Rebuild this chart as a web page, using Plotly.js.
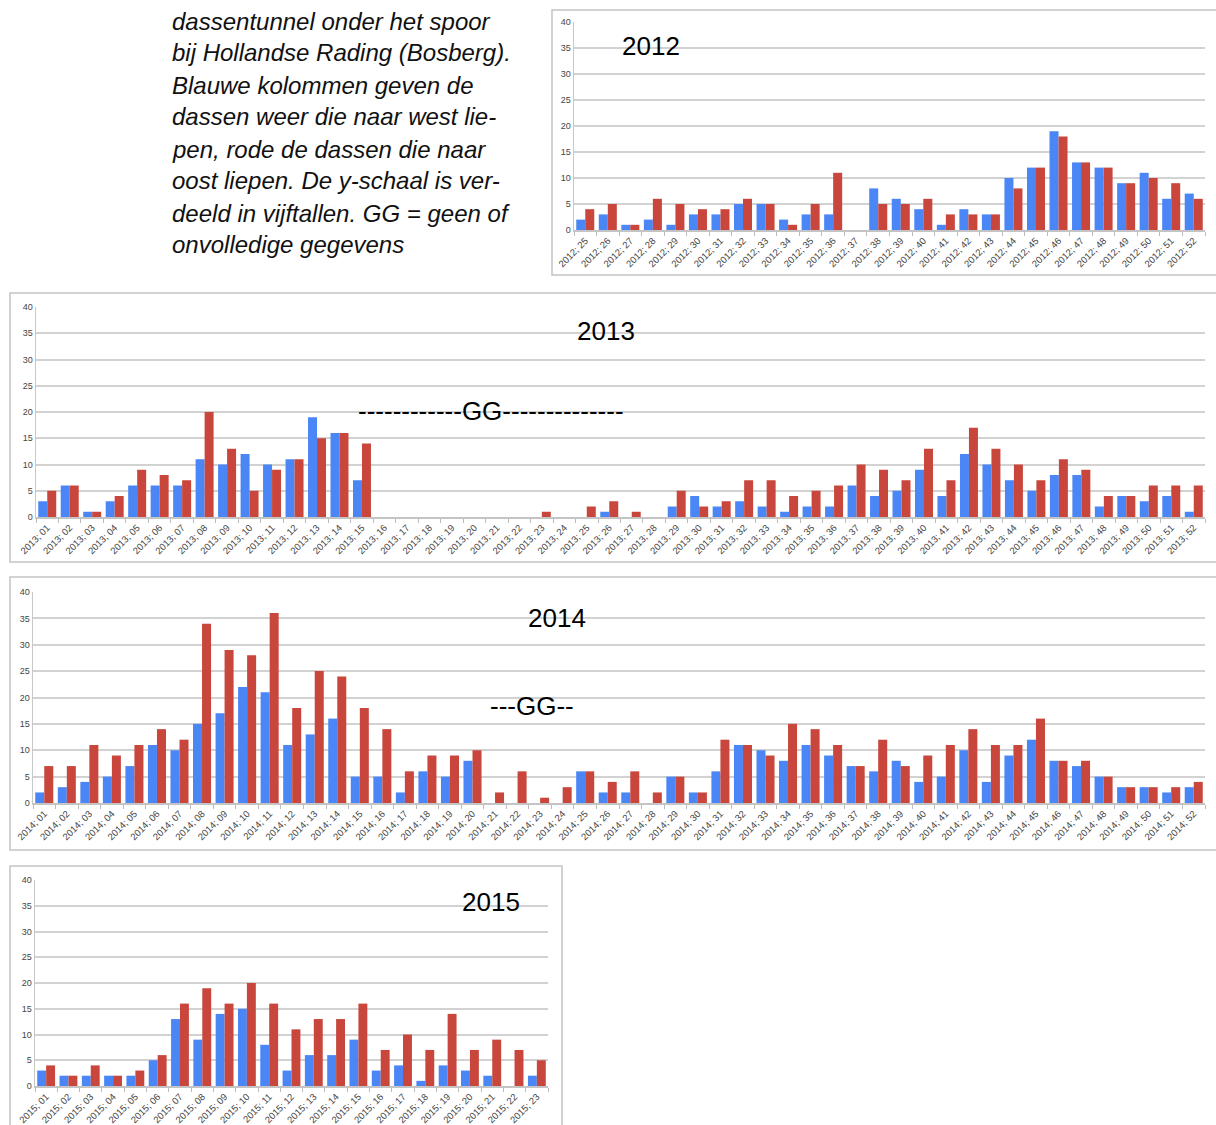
<!DOCTYPE html>
<html><head><meta charset="utf-8">
<script src="https://cdn.plot.ly/plotly-3.0.1.min.js"></script>
<style>html,body{margin:0;padding:0;background:#fff;overflow:hidden}#chart{width:1216px;height:1125px;}</style>
</head><body><div id="chart"></div>
<script>
// ---- data ----
const weeks2012 = ['25','26','27','28','29','30','31','32','33','34','35','36','37','38','39','40','41','42','43','44','45','46','47','48','49','50','51','52'];
const west2012 = [2,3,1,2,1,3,3,5,5,2,3,3,0,8,6,4,1,4,3,10,12,19,13,12,9,11,6,7];
const oost2012 = [4,5,1,6,5,4,4,6,5,1,5,11,0,5,5,6,3,3,3,8,12,18,13,12,9,10,9,6];

const weeksFull = ['01','02','03','04','05','06','07','08','09','10','11','12','13','14','15','16','17','18','19','20','21','22','23','24','25','26','27','28','29','30','31','32','33','34','35','36','37','38','39','40','41','42','43','44','45','46','47','48','49','50','51','52'];
const west2013 = [3,6,1,3,6,6,6,11,10,12,10,11,19,16,7,0,0,0,0,0,0,0,0,0,0,1,0,0,2,4,2,3,2,1,2,2,6,4,5,9,4,12,10,7,5,8,8,2,4,3,4,1];
const oost2013 = [5,6,1,4,9,8,7,20,13,5,9,11,15,16,14,0,0,0,0,0,0,0,1,0,2,3,1,0,5,2,3,7,7,4,5,6,10,9,7,13,7,17,13,10,7,11,9,4,4,6,6,6];

const west2014 = [2,3,4,5,7,11,10,15,17,22,21,11,13,16,5,5,2,6,5,8,0,0,0,0,6,2,2,0,5,2,6,11,10,8,11,9,7,6,8,4,5,10,4,9,12,8,7,5,3,3,2,3];
const oost2014 = [7,7,11,9,11,14,12,34,29,28,36,18,25,24,18,14,6,9,9,10,2,6,1,3,6,4,6,2,5,2,12,11,9,15,14,11,7,12,7,9,11,14,11,11,16,8,8,5,3,3,3,4];

const weeks2015 = ['01','02','03','04','05','06','07','08','09','10','11','12','13','14','15','16','17','18','19','20','21','22','23'];
const west2015 = [3,2,2,2,2,5,13,9,14,15,8,3,6,6,9,3,4,1,4,3,2,0,2];
const oost2015 = [4,2,4,2,3,6,16,19,16,20,16,11,13,13,16,7,10,7,14,7,9,7,5];

const yTicks = [0,5,10,15,20,25,30,35,40];
const yearLabels = ['2012','2013','2014','2015'];
const gapLabels = ['------------GG--------------','---GG--'];
const captionLines = [
  'dassentunnel onder het spoor',
  'bij Hollandse Rading (Bosberg).',
  'Blauwe kolommen geven de',
  'dassen weer die naar west lie-',
  'pen, rode de dassen die naar',
  'oost liepen. De y-schaal is ver-',
  'deeld in vijftallen. GG = geen of',
  'onvolledige gegevens'
];

// ---- layout helpers ----
const W = 1216, H = 1125;
const px = v => v / W;
const py = v => 1 - v / H;
const BLUE = '#4a86f6', RED = '#c8463b';
const FONT = 'Liberation Sans, Arial, sans-serif';

function cats(year, weeks){ return weeks.map(w => year + '; ' + w); }

const panels = [
  {year:'2012', weeks:weeks2012, west:west2012, oost:oost2012, x:[574,1205], y:[22,230]},
  {year:'2013', weeks:weeksFull, west:west2013, oost:oost2013, x:[36,1205], y:[307,517]},
  {year:'2014', weeks:weeksFull, west:west2014, oost:oost2014, x:[33,1205], y:[592,803]},
  {year:'2015', weeks:weeks2015, west:west2015, oost:oost2015, x:[35,548], y:[880,1086]}
];

const traces = [];
const layout = {
  width: W, height: H,
  margin: {l:0, r:0, t:0, b:0},
  paper_bgcolor: '#fff', plot_bgcolor: '#fff',
  showlegend: false,
  barmode: 'group', bargap: 0.2, bargroupgap: 0,
  font: {family: FONT},
  shapes: [], annotations: []
};

panels.forEach((p, i) => {
  const n = i === 0 ? '' : String(i + 1);
  const c = cats(p.year, p.weeks);
  traces.push({type:'bar', x:c, y:p.west, xaxis:'x'+n, yaxis:'y'+n, name:'west',
    marker:{color:BLUE, line:{width:0}}, hoverinfo:'x+y'});
  traces.push({type:'bar', x:c, y:p.oost, xaxis:'x'+n, yaxis:'y'+n, name:'oost',
    marker:{color:RED, line:{width:0}}, hoverinfo:'x+y'});
  layout['xaxis'+n] = {
    domain:[px(p.x[0]), px(p.x[1])], anchor:'y'+n, type:'category',
    tickangle:-45, tickfont:{size:9.5, color:'#444', family:FONT},
    ticks:'outside', tickson:'boundaries', ticklen:4, tickcolor:'#bbb',
    showline:true, linecolor:'#c4c4c4', linewidth:1.5, showgrid:false,
    fixedrange:true
  };
  layout['yaxis'+n] = {
    domain:[py(p.y[1]), py(p.y[0])], anchor:'x'+n, range:[0,40],
    tickmode:'array', tickvals:yTicks, tickfont:{size:9, color:'#444', family:FONT},
    gridcolor:'#d2d2d2', gridwidth:2, zeroline:false,
    showline:true, linecolor:'#c8c8c8', linewidth:1.5, ticks:'', fixedrange:true
  };
});

// panel frames
[[552,10,1222,275],[10,293,1222,562],[10,577,1222,850],[10,866,562,1130]].forEach(b => {
  layout.shapes.push({type:'rect', xref:'paper', yref:'paper',
    x0:px(b[0]), x1:px(b[2]), y0:py(b[3]), y1:py(b[1]),
    line:{color:'#c4c4c4', width:1.5}, fillcolor:'rgba(0,0,0,0)', layer:'below'});
});

// year labels
[[651,46],[606,331],[557,618],[491,902]].forEach((pos, i) => {
  layout.annotations.push({xref:'paper', yref:'paper', x:px(pos[0]), y:py(pos[1]),
    xanchor:'center', yanchor:'middle', showarrow:false, text:yearLabels[i],
    font:{size:26, color:'#000', family:FONT}});
});
// GG labels
layout.annotations.push({xref:'paper', yref:'paper', x:px(491), y:py(411),
  xanchor:'center', yanchor:'middle', showarrow:false, text:gapLabels[0],
  font:{size:26, color:'#000', family:FONT}});
layout.annotations.push({xref:'paper', yref:'paper', x:px(532), y:py(706),
  xanchor:'center', yanchor:'middle', showarrow:false, text:gapLabels[1],
  font:{size:26, color:'#000', family:FONT}});

// caption
captionLines.forEach((t, i) => {
  layout.annotations.push({xref:'paper', yref:'paper', x:px(170), y:py(21 + 32*i),
    xanchor:'left', yanchor:'middle', showarrow:false, text:'<i>'+t+'</i>',
    font:{size:24, color:'#111', family:FONT}});
});

Plotly.newPlot('chart', traces, layout, {staticPlot:true, displayModeBar:false});
</script>
</body></html>
